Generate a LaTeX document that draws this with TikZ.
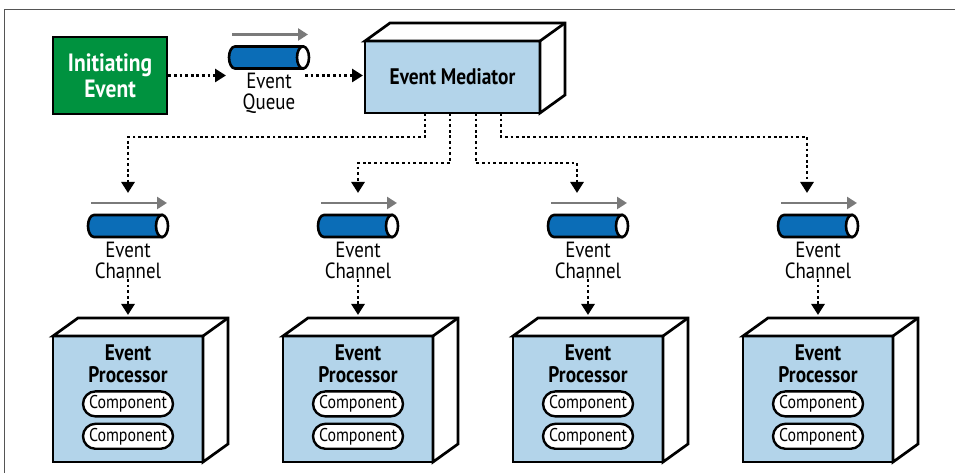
\documentclass[tikz,border=0pt]{standalone}
\usepackage{fontspec}
\setmainfont{PT Sans}[FakeStretch=0.86]
\usepackage{tikz}
\usetikzlibrary{arrows.meta,positioning,shapes.misc,calc}
\definecolor{EventGreen}{HTML}{00923F}
\definecolor{EventBlue}{HTML}{0B6DB7}
\definecolor{EventPale}{HTML}{B3D4EA}
\definecolor{EventGray}{HTML}{7A7A7A}
\definecolor{FrameGray}{HTML}{555555}

% top and side faces of a box node
\newcommand{\cubeback}[1]{%
  \draw[line width=2.7pt,fill=white] (#1.north west) -- ++(25,18)
    -- ($(#1.north east)+(25,18)$) -- ($(#1.south east)+(25,18)$)
    -- (#1.south east) -- (#1.north east) -- cycle;
  \draw[line width=2.7pt] (#1.north east) -- ++(25,18);
}
% tube body with its open end and the push arrow above it
\newcommand{\tubebody}[1]{%
  \draw[line width=2.6pt,fill=EventBlue] ($(#1.north east)+(-6,0)$)
    -- ($(#1.north west)+(6,0)$) arc[start angle=90,end angle=270,x radius=6,y radius=11]
    -- ($(#1.south east)+(-6,0)$) -- cycle;
  \draw[line width=2.6pt,fill=white] ($(#1.east)+(-6,0)$) ellipse[x radius=6,y radius=11];
  \draw[push] ($(#1.north west)+(3,12)$) -- ($(#1.north east)+(-1,12)$);
}

\begin{document}
\begin{tikzpicture}[
  x=1pt,y=1pt,
  font=\fontsize{22}{21}\selectfont,
  cube/.style={
    draw=black,
    line width=2.7pt,
    fill=EventPale,
    outer sep=0pt,
    inner sep=0pt
  },
  initbox/.style={
    draw=black,
    line width=2.7pt,
    fill=EventGreen,
    text=white,
    align=center,
    minimum width=114,
    minimum height=77,
    font=\bfseries\fontsize{25}{26}\selectfont
  },
  pipe/.style={minimum width=80,minimum height=22,inner sep=0pt,outer sep=0pt},
  pipelabel/.style={align=center,inner sep=0pt},
  title/.style={align=center,inner sep=0pt,font=\bfseries\fontsize{22.5}{22}\selectfont},
  comp/.style={
    rounded rectangle,
    draw=black,
    line width=2.4pt,
    fill=white,
    minimum width=90,
    minimum height=25,
    inner sep=0pt,
    font=\fontsize{18.5}{18}\selectfont
  },
  flow/.style={-{Triangle[length=11pt,width=13pt]},line width=2.8pt,dash pattern=on 2.8pt off 2.8pt},
  push/.style={-{Triangle[length=10pt,width=12pt]},line width=2.6pt,draw=EventGray}
]
  \useasboundingbox (0,0) rectangle (955,473);
  \draw[FrameGray,line width=1pt] (4,0) -- (4,463) -- (955,463);

  \node[initbox] (init) at (110,397.5) {Initiating\\Event};

  \node[pipe] (queue) at (269,415.5) {};
  \tubebody{queue}
  \node[pipelabel,below=4pt of queue] (qlabel) {Event\\Queue};

  \node[cube,minimum width=175,minimum height=72] (med) at (452.5,396) {};
  \cubeback{med}
  \node[title] at (med) {Event Mediator};

  \draw[flow,shorten >=3pt] (init) -- (init -| queue.west);
  \draw[flow,shorten <=-4pt,shorten >=2pt] (init -| queue.east) -- (init -| med.west);

  \foreach \cx [count=\i] in {128,358,588,818} {
    \node[pipe] (ch\i) at (\cx,247) {};
    \tubebody{ch\i}
    \node[pipelabel,below=5pt of ch\i] (lab\i) {Event\\Channel};
    \node[cube,minimum width=150,minimum height=126] (proc\i) at (\cx,74) {};
    \cubeback{proc\i}
    \node[title] at (\cx,109) {Event\\Processor};
    \node[comp,above=12pt of proc\i.south] (compb\i) {Component};
    \node[comp,above=5pt of compb\i] (compa\i) {Component};
    \draw[flow] (lab\i) -- ([yshift=21]proc\i.north);
  }

  \draw[flow] ([xshift=-27.5]med.south) -- ++(0,-24) -| ([yshift=22]ch1.north);
  \draw[flow] ([xshift=-2.5]med.south) -- ++(0,-50) -| ([yshift=22]ch2.north);
  \draw[flow] ([xshift=23.5]med.south) -- ++(0,-50) -| ([xshift=-11,yshift=22]ch3.north);
  \draw[flow] ([xshift=48.5]med.south) -- ++(0,-24) -| ([xshift=-11,yshift=22]ch4.north);
\end{tikzpicture}
\end{document}
